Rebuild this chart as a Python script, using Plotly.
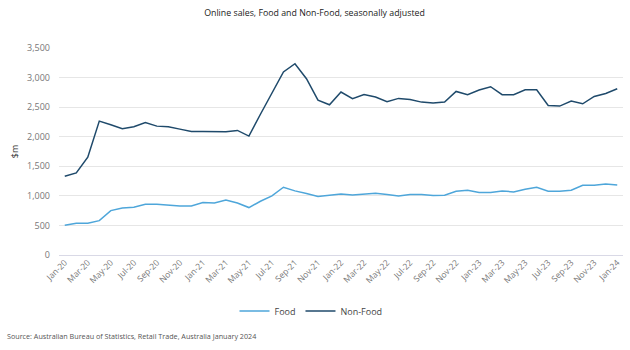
import plotly.graph_objects as go

months = ["Jan-20","Feb-20","Mar-20","Apr-20","May-20","Jun-20","Jul-20","Aug-20","Sep-20","Oct-20","Nov-20","Dec-20",
          "Jan-21","Feb-21","Mar-21","Apr-21","May-21","Jun-21","Jul-21","Aug-21","Sep-21","Oct-21","Nov-21","Dec-21",
          "Jan-22","Feb-22","Mar-22","Apr-22","May-22","Jun-22","Jul-22","Aug-22","Sep-22","Oct-22","Nov-22","Dec-22",
          "Jan-23","Feb-23","Mar-23","Apr-23","May-23","Jun-23","Jul-23","Aug-23","Sep-23","Oct-23","Nov-23","Dec-23",
          "Jan-24"]

food = [502, 536, 536, 581, 751, 796, 807, 858, 858, 841, 830, 830,
        886, 880, 931, 880, 802, 909, 999, 1146, 1084, 1039, 988, 1010,
        1033, 1016, 1033, 1044, 1022, 999, 1022, 1022, 1005, 1010, 1078, 1095,
        1056, 1056, 1084, 1067, 1112, 1146, 1078, 1078, 1095, 1180, 1180, 1202,
        1185]

non_food = [1332, 1389, 1654, 2264, 2202, 2134, 2168, 2241, 2179, 2168, 2128, 2089,
            2089, 2089, 2083, 2106, 2010, 2380, 2727, 3094, 3235, 2981, 2619, 2540,
            2755, 2642, 2715, 2670, 2591, 2648, 2631, 2585, 2569, 2585, 2766, 2710,
            2789, 2845, 2710, 2710, 2794, 2794, 2529, 2518, 2602, 2557, 2681, 2732,
            2811]

y_ticks = [0, 500, 1000, 1500, 2000, 2500, 3000, 3500]

FONT = "Open Sans"
PLOT_H = 350 - 48 - 95
PLOT_W = 630 - 59 - 7

fig = go.Figure()
fig.add_trace(go.Scatter(x=months, y=food, mode="lines", name="Food",
                         line=dict(color="#4ea6da", width=1.5)))
fig.add_trace(go.Scatter(x=months, y=non_food, mode="lines", name="Non-Food",
                         line=dict(color="#1f4a6b", width=1.5)))

fig.update_layout(
    width=630, height=350,
    margin=dict(l=59, r=7, t=48, b=95, autoexpand=False),
    paper_bgcolor="white", plot_bgcolor="white",
    font=dict(family=FONT, size=9, color="#666666"),
    title=dict(text="Online sales, Food and Non-Food, seasonally adjusted",
               x=314.5 / 630, xref="container", xanchor="center", y=1 - 13 / 350, yref="container", yanchor="middle",
               font=dict(family=FONT, size=8.8, color="#222222")),
    showlegend=True,
    legend=dict(orientation="h", x=(311 - 59) / PLOT_W, xanchor="center", y=(255 - 311) / PLOT_H, yanchor="middle",
                font=dict(family=FONT, size=9, color="#444444"), itemwidth=30),
    xaxis=dict(type="category", range=[-0.5, 48.5], automargin=False,
               tickmode="array", tickvals=months[::2], ticktext=months[::2],
               tickangle=-45, showgrid=False, showline=False, ticks="",
               tickfont=dict(family=FONT, size=8.5, color="#777777")),
    yaxis=dict(range=[0, 3500], tickvals=y_ticks, tickformat=",", automargin=False,
               showgrid=True, gridcolor="#e6e6e6", gridwidth=1,
               zeroline=True, zerolinecolor="#d9d9e6", zerolinewidth=1,
               ticks="", ticklen=0, ticklabelstandoff=8,
               tickfont=dict(family=FONT, size=9, color="#777777"),
               title=dict(text="$m", standoff=6,
                          font=dict(family=FONT, size=9, color="#333333"))),
)

fig.add_annotation(text="Source: Australian Bureau of Statistics, Retail Trade, Australia January 2024",
                   xref="paper", yref="paper", x=-54 / PLOT_W, y=(255 - 336) / PLOT_H,
                   xanchor="left", yanchor="middle",
                   showarrow=False, font=dict(family=FONT, size=7.2, color="#555555"))

fig.write_html("out.html")
